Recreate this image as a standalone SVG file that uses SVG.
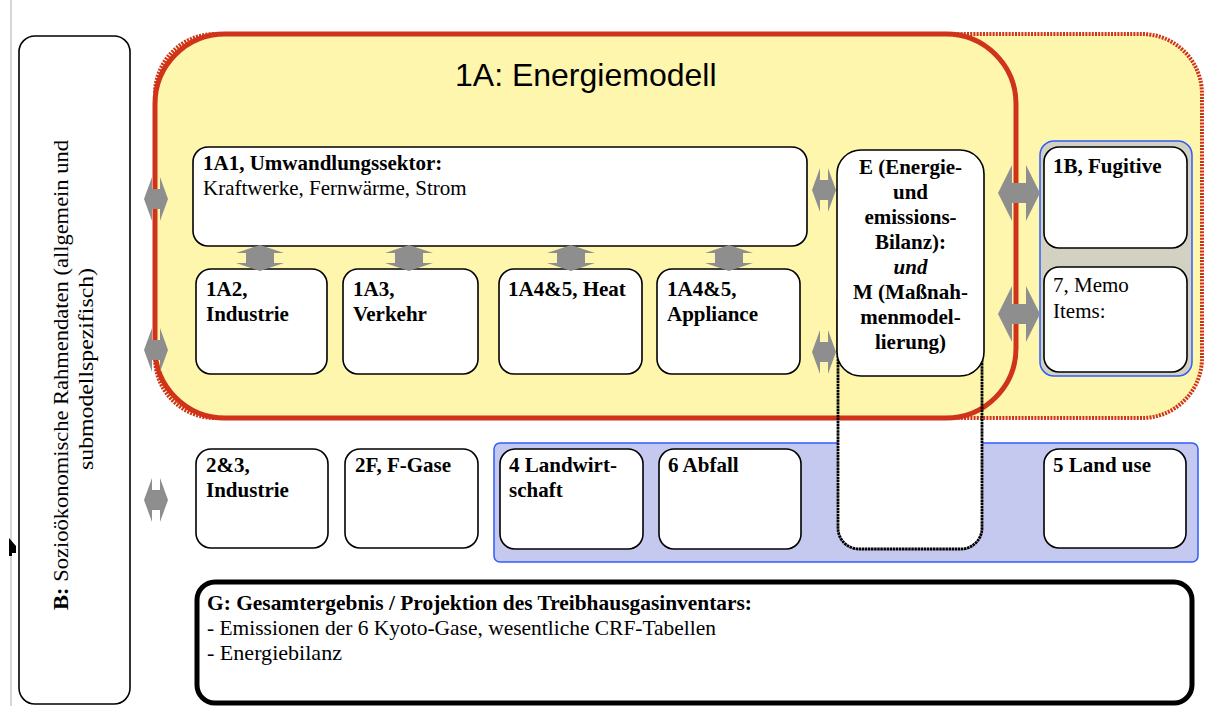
<svg xmlns="http://www.w3.org/2000/svg" width="1208" height="706" viewBox="0 0 1208 706">
<style>
.b{font-family:"Liberation Serif","Times New Roman",serif;font-weight:bold;font-size:21px;fill:#000}
.r{font-family:"Liberation Serif","Times New Roman",serif;font-size:21px;fill:#000}
.box{fill:#fff;stroke:#000;stroke-width:1.6}
.arr{fill:#8e8e8e;stroke:none}
</style>
<rect x="0" y="0" width="1208" height="706" fill="#fff"/>
<line x1="11" y1="0" x2="11" y2="706" stroke="#c8c8c8" stroke-width="1.5"/>
<path d="M9,538 L16,546 L16,556 L9,556 Z" fill="#000"/>
<rect x="12" y="553" width="4" height="4" fill="#fff"/>

<g id="B">
<rect x="19" y="36" width="111" height="668" rx="16" class="box"/>
<text class="r" transform="translate(68,375) rotate(-90)" text-anchor="middle" textLength="470" lengthAdjust="spacingAndGlyphs"><tspan font-weight="bold">B:</tspan>  Sozioökonomische Rahmendaten (allgemein und</text>
<text class="r" transform="translate(93,369) rotate(-90)" text-anchor="middle" textLength="202" lengthAdjust="spacingAndGlyphs">submodellspezifisch)</text>
</g>

<g id="region-blue">
<rect x="494" y="443" width="704" height="119" rx="6" fill="#c6c9ef" stroke="#2f5cff" stroke-width="1.5"/>
</g>
<path d="M838,300 L838,528 A21,21 0 0 0 859,549 L961,549 A21,21 0 0 0 982,528 L982,300 Z" fill="#fff"/>

<g id="region-1">
<rect x="155" y="34" width="1047" height="384" rx="60" fill="#fff6ae" stroke="#cf3319" stroke-width="4" stroke-dasharray="2 1.2"/>
</g>
<g id="region-1A">
<rect x="155" y="34" width="861" height="384" rx="70" fill="#fff6ae" stroke="#cf3319" stroke-width="5"/>
<text x="455" y="86" font-family="'Liberation Sans',Arial,sans-serif" font-size="32" fill="#000">1A: Energiemodell</text>
</g>
<path d="M838,300 L838,528 A21,21 0 0 0 859,549 L961,549 A21,21 0 0 0 982,528 L982,300" fill="none" stroke="#000" stroke-width="2.8" stroke-dasharray="2.5 0.6"/>

<g id="group-right">
<rect x="1040" y="141" width="152" height="235" rx="14" fill="#d2d1c2" stroke="#2f5cff" stroke-width="1.5"/>
</g>

<g id="n1A1">
<rect x="193" y="147" width="614" height="99" rx="15" class="box"/>
<text x="203" y="170" class="b">1A1, Umwandlungssektor:</text>
<text x="203" y="195" class="r">Kraftwerke, Fernwärme, Strom</text>
</g>
<g id="n1A2">
<rect x="196" y="269" width="131" height="105" rx="15" class="box"/>
<text x="206" y="296" class="b">1A2,</text>
<text x="206" y="321" class="b">Industrie</text>
</g>
<g id="n1A3">
<rect x="343" y="269" width="135" height="105" rx="15" class="box"/>
<text x="353" y="296" class="b">1A3,</text>
<text x="353" y="321" class="b">Verkehr</text>
</g>
<g id="n1A45H">
<rect x="499" y="269" width="143" height="105" rx="15" class="box"/>
<text x="508" y="296" class="b">1A4&amp;5, Heat</text>
</g>
<g id="n1A45A">
<rect x="657" y="269" width="143" height="105" rx="15" class="box"/>
<text x="667" y="296" class="b">1A4&amp;5,</text>
<text x="667" y="321" class="b">Appliance</text>
</g>
<g id="nE">
<rect x="837" y="150" width="147" height="226" rx="24" class="box"/>
<g text-anchor="middle">
<text x="910.5" y="174" class="b">E (Energie-</text>
<text x="910.5" y="199" class="b">und</text>
<text x="910.5" y="224" class="b">emissions-</text>
<text x="910.5" y="249" class="b">Bilanz):</text>
<text x="910.5" y="274" class="b" font-style="italic">und</text>
<text x="910.5" y="299" class="b">M (Maßnah-</text>
<text x="910.5" y="324" class="b">menmodel-</text>
<text x="910.5" y="349" class="b">lierung)</text>
</g>
</g>
<g id="n1B">
<rect x="1044" y="147" width="143" height="101" rx="15" class="box"/>
<text x="1053" y="173" class="b">1B, Fugitive</text>
</g>
<g id="n7">
<rect x="1044" y="267" width="143" height="105" rx="15" class="box"/>
<text x="1053" y="292" class="r">7, Memo</text>
<text x="1053" y="318" class="r">Items:</text>
</g>
<g id="n23">
<rect x="196" y="449" width="132" height="99" rx="15" class="box"/>
<text x="206" y="472" class="b">2&amp;3,</text>
<text x="206" y="497" class="b">Industrie</text>
</g>
<g id="n2F">
<rect x="345" y="449" width="133" height="99" rx="15" class="box"/>
<text x="355" y="472" class="b">2F, F-Gase</text>
</g>
<g id="n4">
<rect x="500" y="449" width="143" height="100" rx="15" class="box"/>
<text x="509" y="472" class="b">4 Landwirt-</text>
<text x="509" y="497" class="b">schaft</text>
</g>
<g id="n6">
<rect x="659" y="449" width="142" height="100" rx="15" class="box"/>
<text x="668" y="472" class="b">6 Abfall</text>
</g>
<g id="n5">
<rect x="1044" y="449" width="142" height="99" rx="15" class="box"/>
<text x="1053" y="472" class="b">5 Land use</text>
</g>
<g id="nG">
<rect x="197" y="582" width="995" height="121" rx="18" fill="#fff" stroke="#000" stroke-width="5"/>
<text x="207" y="610" class="b" textLength="545" lengthAdjust="spacingAndGlyphs">G: Gesamtergebnis / Projektion des Treibhausgasinventars:</text>
<text x="207" y="635" class="r" textLength="509" lengthAdjust="spacingAndGlyphs">- Emissionen der 6 Kyoto-Gase, wesentliche CRF-Tabellen</text>
<text x="207" y="660" class="r" textLength="135" lengthAdjust="spacingAndGlyphs">- Energiebilanz</text>
</g>

<g id="connectors">
<polygon class="arr" points="144,199 152,177 152,189 160,189 160,177 168,199 160,221 160,209 152,209 152,221"/>
<polygon class="arr" points="144,350 152,328 152,340 160,340 160,328 168,350 160,372 160,360 152,360 152,372"/>
<polygon class="arr" points="144,500 152,478 152,490 160,490 160,478 168,500 160,522 160,510 152,510 152,522"/>
<polygon class="arr" points="812,190 820,168 820,180 828,180 828,168 836,190 828,212 828,200 820,200 820,212"/>
<polygon class="arr" points="812,352 820,330 820,342 828,342 828,330 836,352 828,374 828,362 820,362 820,374"/>
<polygon class="arr" points="998,193 1012,165 1012,183 1026,183 1026,165 1040,193 1026,221 1026,203 1012,203 1012,221"/>
<polygon class="arr" points="998,314 1012,286 1012,304 1026,304 1026,286 1040,314 1026,342 1026,324 1012,324 1012,342"/>
<polygon class="arr" points="260,245 284,253 274,253 274,263 284,263 260,271 236,263 246,263 246,253 236,253"/>
<polygon class="arr" points="409,245 433,253 423,253 423,263 433,263 409,271 385,263 395,263 395,253 385,253"/>
<polygon class="arr" points="571,245 595,253 585,253 585,263 595,263 571,271 547,263 557,263 557,253 547,253"/>
<polygon class="arr" points="729,245 753,253 743,253 743,263 753,263 729,271 705,263 715,263 715,253 705,253"/>
</g>
</svg>
